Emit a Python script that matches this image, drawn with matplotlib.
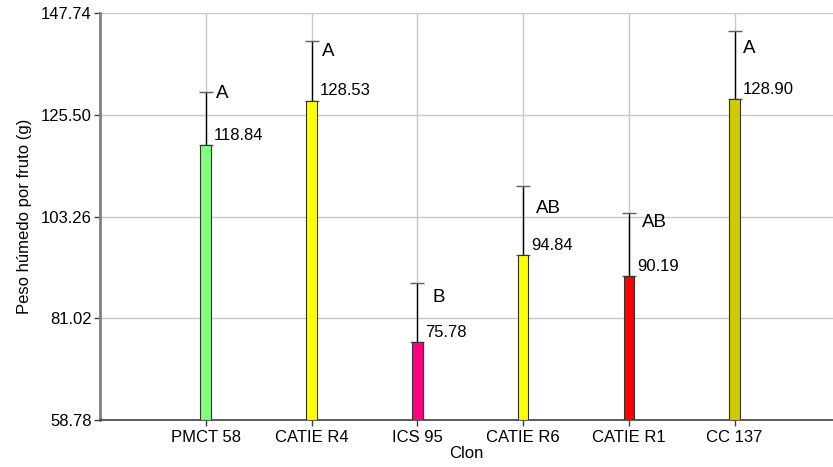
import numpy as np
import matplotlib
matplotlib.use('Agg')
import matplotlib.pyplot as plt

plt.rcParams['font.family'] = ['Liberation Sans', 'DejaVu Sans']

# peso húmedo medio por fruto y desviación por clon
clones = ['PMCT 58', 'CATIE R4', 'ICS 95', 'CATIE R6', 'CATIE R1', 'CC 137']
medias = [118.84, 128.53, 75.78, 94.84, 90.19, 128.90]
desv = [11.70, 13.09, 12.94, 15.16, 13.81, 14.97]
letras = ['A', 'A', 'B', 'AB', 'AB', 'A']
colores = ['#80FF80', '#FFFF00', '#FF0080', '#FFFF00', '#FF0000', '#CCCC00']
yticks = [58.78, 81.02, 103.26, 125.50, 147.74]

# desplazamiento (px) de cada letra respecto al extremo de la barra de error
off_letra = [-2, -11, -14, -23, -9, -18]
dx_letra = [10, 10, 15, 13, 13, 8]

fig = plt.figure(figsize=(8.33, 4.67), dpi=100)
ax = fig.add_axes([0.12, 0.1006, 0.88, 0.8716])

x = np.arange(1, len(clones) + 1)
ax.bar(x, np.array(medias) - yticks[0], bottom=yticks[0], width=0.1,
       color=colores, edgecolor='#333333', linewidth=0.8, zorder=3)
eb = ax.errorbar(x, medias, yerr=[np.zeros(len(desv)), desv], fmt='none',
                 ecolor='black', elinewidth=1, capsize=5, capthick=1, zorder=2)
for cl in eb[1]:
    cl.set_markeredgecolor('#606060')

for i in range(len(clones)):
    ax.annotate('%.2f' % medias[i], (x[i], medias[i]), xytext=(8, 10),
                textcoords='offset pixels', ha='left', va='center', fontsize=12)
    ax.annotate(letras[i], (x[i], medias[i] + desv[i]), xytext=(dx_letra[i], off_letra[i]),
                textcoords='offset pixels', ha='left', va='center', fontsize=13.5)

ax.set_xlim(0, 6.93)
ax.set_ylim(yticks[0], yticks[-1])
ax.set_yticks(yticks)
ax.set_yticklabels(['%.2f' % v for v in yticks], fontsize=12)
ax.set_xticks(x)
ax.set_xticklabels(clones, fontsize=12)
ax.grid(True, color='#C8C8C8', linewidth=1, zorder=0)
ax.set_axisbelow(True)

ax.spines['top'].set_visible(False)
ax.spines['right'].set_visible(False)
ax.spines['left'].set_color('#808080')
ax.spines['left'].set_linewidth(2)
ax.spines['bottom'].set_color('#404040')
ax.spines['bottom'].set_linewidth(1.2)
ax.tick_params(axis='y', length=4, width=1, color='#404040', pad=2)
ax.tick_params(axis='x', length=4, width=1, color='#404040', pad=3)

ax.set_xlabel('Clon', fontsize=12, labelpad=1)
ax.set_ylabel('Peso húmedo por fruto (g)', fontsize=12, labelpad=6)

fig.savefig('out.png', dpi=100)
